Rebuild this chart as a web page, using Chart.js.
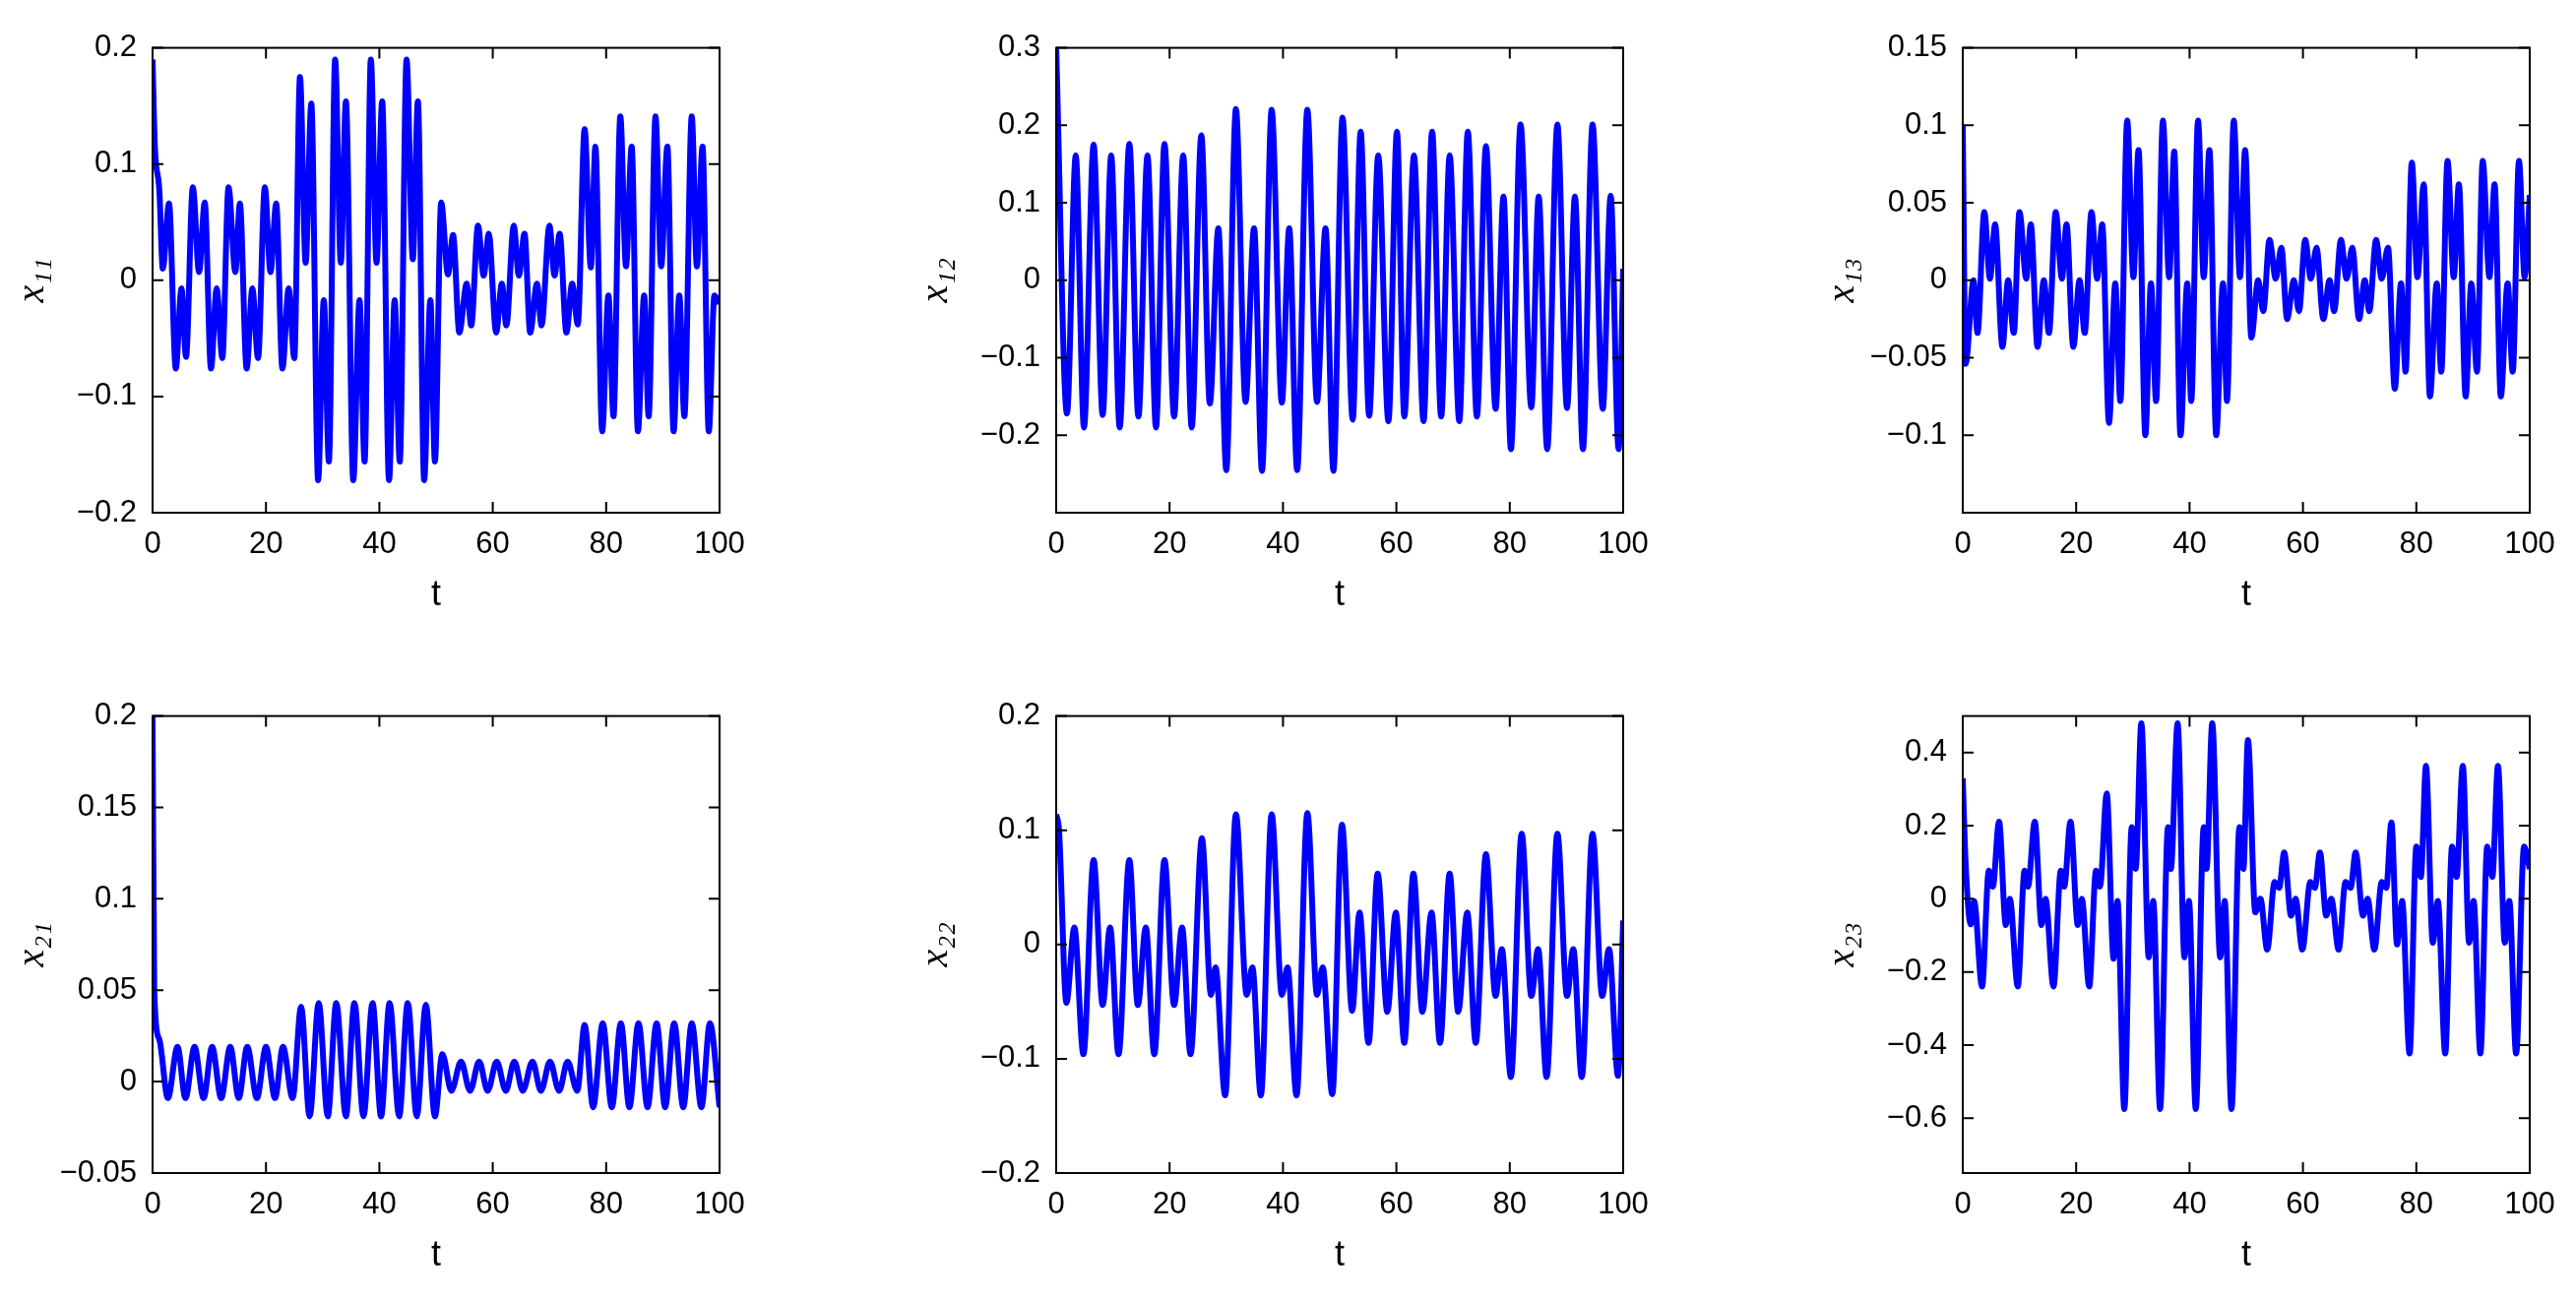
<!DOCTYPE html>
<html>
<head>
<meta charset="utf-8">
<script src="https://cdn.jsdelivr.net/npm/chart.js@4.4.1/dist/chart.umd.min.js"></script>
<style>
  body { margin: 0; background: #fff; width: 2617px; height: 1320px; overflow: hidden; position: relative; }
  .panel { position: absolute; }
</style>
</head>
<body>
<script>
// x11: extrema, time then value
const t11 = [0,0.4,1.2,1.8,2.9,4.1,5.1,5.9,7.1,8.2,9.2,10.3,11.3,12.3,13.4,14.6,15.4,16.6,17.6,18.6,19.8,20.8,21.8,22.9,24,25,26,27,28,29.2,30.2,31.1,32.2,33.2,34.1,35.4,36.5,37.4,38.5,39.5,40.5,41.7,42.7,43.6,44.8,45.9,46.8,47.9,49,49.8,50.9,52.1,53,54.1,55.4,56.2,57.4,58.4,59.3,60.6,61.6,62.4,63.7,64.6,65.6,66.6,67.8,68.6,70,70.9,71.8,73,74,75,76.2,77.3,78.1,79.3,80.4,81.3,82.5,83.5,84.5,85.6,86.7,87.5,88.7,89.7,90.8,91.9,92.9,93.8,95.1,96,97,98.1,99.1,100];
const v11 = [0.19,0.116,0.077,0.01,0.066,-0.076,-0.007,-0.066,0.08,0.007,0.067,-0.076,-0.007,-0.067,0.08,0.007,0.066,-0.076,-0.007,-0.067,0.08,0.007,0.066,-0.076,-0.007,-0.067,0.175,0.015,0.152,-0.172,-0.017,-0.156,0.19,0.015,0.154,-0.172,-0.017,-0.156,0.19,0.015,0.154,-0.172,-0.017,-0.156,0.19,0.018,0.154,-0.172,-0.017,-0.156,0.067,0.005,0.039,-0.045,-0.003,-0.039,0.047,0.004,0.04,-0.045,-0.003,-0.039,0.047,0.004,0.04,-0.045,-0.003,-0.039,0.047,0.004,0.04,-0.045,-0.003,-0.038,0.13,0.011,0.115,-0.13,-0.013,-0.117,0.141,0.012,0.115,-0.13,-0.013,-0.117,0.141,0.012,0.115,-0.13,-0.013,-0.117,0.141,0.012,0.115,-0.13,-0.013,-0.02];

// x12
const t12 = [0,1.9,3.45,4.9,6.6,8.2,9.7,11.2,12.9,14.5,16.1,17.6,19.1,20.8,22.4,23.9,25.6,27.1,28.6,30,31.7,33.4,34.9,36.3,38,39.8,41.1,42.5,44.3,46,47.5,48.9,50.5,52.3,53.7,55.2,56.8,58.6,60.1,61.4,63.1,64.8,66.3,67.9,69.4,71.1,72.6,74.2,75.8,77.5,78.9,80.2,81.9,83.8,85.1,86.6,88.4,90.1,91.5,92.9,94.6,96.4,97.8,99.2,100];
const v12 = [0.3,-0.172,0.161,-0.19,0.175,-0.174,0.161,-0.19,0.176,-0.176,0.161,-0.19,0.176,-0.176,0.161,-0.19,0.187,-0.159,0.067,-0.245,0.221,-0.157,0.067,-0.246,0.22,-0.158,0.067,-0.245,0.22,-0.157,0.067,-0.246,0.21,-0.18,0.192,-0.175,0.161,-0.182,0.192,-0.176,0.161,-0.182,0.192,-0.176,0.161,-0.182,0.192,-0.176,0.173,-0.166,0.108,-0.218,0.201,-0.164,0.108,-0.218,0.201,-0.165,0.108,-0.218,0.201,-0.166,0.109,-0.218,0.015];

// x13
const t13 = [0,0.5,1.9,2.6,3.8,4.8,5.7,7,8,9,10,11.2,12,13.2,14.3,15.2,16.4,17.5,18.3,19.5,20.6,21.5,22.7,23.7,24.6,25.8,26.9,27.8,29,30.1,31,32.2,33.2,34.1,35.3,36.4,37.3,38.4,39.6,40.3,41.5,42.5,43.5,44.7,45.9,46.6,47.8,48.9,49.8,50.9,52.1,53,54.1,55.2,56.2,57.2,58.4,59.3,60.4,61.4,62.4,63.6,64.7,65.5,66.7,67.7,68.7,69.9,70.9,71.7,72.9,73.9,75,76.2,77.3,78.1,79.2,80.2,81.3,82.4,83.6,84.4,85.5,86.6,87.5,88.7,89.7,90.7,91.7,92.9,93.8,94.9,96.1,97,98.1,99.1,100];
const v13 = [0.1,-0.054,0,-0.034,0.044,0.001,0.036,-0.043,0,-0.034,0.044,0.001,0.036,-0.043,0,-0.034,0.044,0.001,0.036,-0.043,0,-0.034,0.044,0.001,0.036,-0.092,-0.002,-0.078,0.103,0.002,0.084,-0.1,-0.002,-0.078,0.103,0.002,0.083,-0.1,-0.002,-0.078,0.103,0.002,0.084,-0.1,-0.002,-0.078,0.103,0.002,0.084,-0.037,0,-0.02,0.026,0.001,0.021,-0.025,0,-0.02,0.026,0.001,0.021,-0.025,0,-0.02,0.026,0.001,0.021,-0.025,0,-0.02,0.026,0.001,0.021,-0.07,-0.002,-0.059,0.076,0.002,0.062,-0.075,-0.002,-0.059,0.077,0.002,0.062,-0.075,-0.002,-0.059,0.077,0.002,0.062,-0.075,-0.002,-0.059,0.077,0.002,0.055];

// x21
const t21 = [0,0.3,1.2,2.7,4.4,5.8,7.4,9,10.5,12.1,13.7,15.2,16.7,18.4,20,21.6,23,24.7,26.2,27.7,29.3,30.9,32.4,34.1,35.6,37.2,38.8,40.3,41.8,43.5,45,46.6,48.2,49.8,51.1,52.7,54.4,56,57.6,59.1,60.7,62.3,63.8,65.3,67,68.5,70.1,71.7,73.2,74.9,76.2,77.7,79.4,81,82.6,84.1,85.7,87.3,88.9,90.4,92,93.6,95.1,96.8,98.3,100];
const v21 = [0.2,0.05,0.023,-0.009,0.019,-0.009,0.019,-0.009,0.019,-0.009,0.019,-0.009,0.019,-0.009,0.019,-0.009,0.019,-0.009,0.041,-0.019,0.043,-0.019,0.043,-0.019,0.043,-0.019,0.043,-0.019,0.043,-0.019,0.043,-0.019,0.042,-0.019,0.015,-0.005,0.011,-0.005,0.011,-0.005,0.011,-0.005,0.011,-0.005,0.011,-0.005,0.011,-0.005,0.011,-0.005,0.031,-0.014,0.032,-0.014,0.032,-0.014,0.032,-0.014,0.032,-0.014,0.032,-0.014,0.032,-0.014,0.032,-0.014];

// x22
const t22 = [0,0.5,1.8,3.2,4.8,6.6,8.2,9.5,11,12.9,14.4,15.8,17.3,19.1,20.8,22.2,23.7,25.7,27.3,28.1,29.8,31.7,33.6,34.6,36.1,38,39.8,40.8,42.4,44.3,46,47,48.7,50.4,52.2,53.5,55.1,56.7,58.4,59.9,61.4,63,64.6,66.2,67.7,69.4,70.9,72.5,74,75.8,77.5,78.6,80.2,82.1,83.8,85,86.5,88.4,90.1,91.2,92.7,94.6,96.3,97.5,99.1,100];
const v22 = [0.114,0.1,-0.051,0.015,-0.096,0.074,-0.053,0.015,-0.096,0.074,-0.053,0.015,-0.096,0.074,-0.053,0.015,-0.096,0.093,-0.044,-0.02,-0.132,0.114,-0.044,-0.02,-0.132,0.114,-0.044,-0.02,-0.132,0.115,-0.044,-0.02,-0.131,0.105,-0.058,0.028,-0.086,0.062,-0.059,0.028,-0.086,0.062,-0.059,0.028,-0.086,0.062,-0.059,0.028,-0.086,0.079,-0.045,-0.004,-0.116,0.097,-0.045,-0.004,-0.116,0.097,-0.045,-0.004,-0.116,0.097,-0.045,-0.004,-0.115,0.021];

// x23
const t23 = [0,0.5,1.4,2,3.4,4.6,5.3,6.4,7.6,8.3,9.7,10.9,11.5,12.7,13.9,14.6,16,17.3,17.9,19,20.3,21,22.3,23.5,24.2,25.4,26.6,27.3,28.5,29.8,30.5,31.5,32.8,33.6,34.8,36.2,36.7,37.9,39.1,39.9,41.1,42.5,43,44,45.4,46.2,47.4,48.8,49.5,50.3,51.6,52.5,53.7,55,55.8,56.7,57.9,58.7,59.9,61.3,62.1,63,64.1,65,66.3,67.5,68.4,69.3,70.6,71.4,72.6,73.9,74.7,75.6,76.6,77.5,78.8,80,80.8,81.7,82.9,83.8,85.1,86.3,87.1,88.2,89.3,90.1,91.3,92.5,93.4,94.4,95.6,96.4,97.6,99,100];
const v23 = [0.33,0.1,-0.07,-0.006,-0.24,0.077,0.033,0.211,-0.072,0,-0.24,0.077,0.033,0.211,-0.072,0,-0.24,0.077,0.033,0.211,-0.072,0,-0.24,0.077,0.033,0.288,-0.164,-0.006,-0.575,0.196,0.082,0.48,-0.16,-0.006,-0.575,0.196,0.082,0.48,-0.16,-0.006,-0.575,0.196,0.082,0.48,-0.16,-0.006,-0.575,0.196,0.082,0.434,-0.037,0,-0.139,0.046,0.03,0.127,-0.046,0,-0.139,0.046,0.03,0.127,-0.046,0,-0.139,0.046,0.03,0.127,-0.046,0,-0.139,0.046,0.03,0.209,-0.125,-0.006,-0.423,0.143,0.06,0.364,-0.12,-0.006,-0.423,0.143,0.06,0.364,-0.12,-0.006,-0.423,0.143,0.06,0.364,-0.12,-0.006,-0.423,0.143,0.082];

const xTicks = [0, 20, 40, 60, 80, 100];
const yTicks11 = [-0.2, -0.1, 0, 0.1, 0.2];
const yTicks12 = [-0.2, -0.1, 0, 0.1, 0.2, 0.3];
const yTicks13 = [-0.1, -0.05, 0, 0.05, 0.1, 0.15];
const yTicks21 = [-0.05, 0, 0.05, 0.1, 0.15, 0.2];
const yTicks22 = [-0.2, -0.1, 0, 0.1, 0.2];
const yTicks23 = [-0.6, -0.4, -0.2, 0, 0.2, 0.4];

const panels = [
    { label: 'x₁₁', t: t11, v: v11, ticks: yTicks11, min: -0.2, max: 0.2, left: 155, top: 42, h: 479 },
    { label: 'x₁₂', t: t12, v: v12, ticks: yTicks12, min: -0.3, max: 0.3, left: 1073, top: 42, h: 479 },
    { label: 'x₁₃', t: t13, v: v13, ticks: yTicks13, min: -0.15, max: 0.15, left: 1994, top: 42, h: 479 },
    { label: 'x₂₁', t: t21, v: v21, ticks: yTicks21, min: -0.05, max: 0.2, left: 155, top: 721, h: 471 },
    { label: 'x₂₂', t: t22, v: v22, ticks: yTicks22, min: -0.2, max: 0.2, left: 1073, top: 721, h: 471 },
    { label: 'x₂₃', t: t23, v: v23, ticks: yTicks23, min: -0.75, max: 0.5, left: 1994, top: 721, h: 471 },
];

const PW = 576, PADL = 150, PADT = 20, PADR = 40, PADB = 110;

// MATLAB style box with inward ticks on all four sides
const boxPlugin = {
    id: 'box',
    afterDraw(chart) {
        const { ctx, chartArea: a, scales } = chart;
        ctx.save();
        ctx.strokeStyle = '#000';
        ctx.lineWidth = 2;
        ctx.strokeRect(a.left, a.top, a.right - a.left, a.bottom - a.top);
        const len = 11;
        ctx.beginPath();
        scales.x.ticks.forEach(tk => {
            const px = scales.x.getPixelForValue(tk.value);
            ctx.moveTo(px, a.bottom); ctx.lineTo(px, a.bottom - len);
            ctx.moveTo(px, a.top); ctx.lineTo(px, a.top + len);
        });
        scales.y.ticks.forEach(tk => {
            const py = scales.y.getPixelForValue(tk.value);
            ctx.moveTo(a.left, py); ctx.lineTo(a.left + len, py);
            ctx.moveTo(a.right, py); ctx.lineTo(a.right - len, py);
        });
        ctx.stroke();
        ctx.restore();
    }
};

function fmt(v) {
    return String(v).replace('-', '\u2212');
}

panels.forEach(p => {
    const div = document.createElement('div');
    div.className = 'panel';
    div.style.left = (p.left - PADL) + 'px';
    div.style.top = (p.top - PADT) + 'px';
    div.style.width = (PW + PADL + PADR) + 'px';
    div.style.height = (p.h + PADT + PADB) + 'px';
    const canvas = document.createElement('canvas');
    div.appendChild(canvas);
    document.body.appendChild(div);

    new Chart(canvas.getContext('2d'), {
        type: 'line',
        data: {
            datasets: [{
                data: p.t.map((t, i) => ({ x: t, y: p.v[i] })),
                borderColor: '#0000ff',
                borderWidth: 6,
                pointRadius: 0,
                cubicInterpolationMode: 'monotone',
                fill: false
            }]
        },
        options: {
            responsive: true,
            maintainAspectRatio: false,
            animation: false,
            layout: { padding: { top: PADT, right: PADR, left: 0, bottom: 0 } },
            plugins: { legend: { display: false }, tooltip: { enabled: false } },
            scales: {
                x: {
                    type: 'linear', min: 0, max: 100,
                    afterBuildTicks: s => { s.ticks = xTicks.map(v => ({ value: v })); },
                    afterFit: s => { s.height = PADB; },
                    grid: { display: false },
                    border: { display: false },
                    ticks: { color: '#000', font: { family: 'Liberation Sans', size: 31 }, padding: 6, maxRotation: 0, callback: v => fmt(v) },
                    title: { display: true, text: 't', color: '#000', font: { family: 'Liberation Sans', size: 36 }, padding: { top: 10 } }
                },
                y: {
                    type: 'linear', min: p.min, max: p.max,
                    afterBuildTicks: s => { s.ticks = p.ticks.map(v => ({ value: v })); },
                    afterFit: s => { s.width = PADL; },
                    grid: { display: false },
                    border: { display: false },
                    ticks: { color: '#000', font: { family: 'Liberation Sans', size: 31 }, padding: 8, callback: v => fmt(v) },
                    title: { display: true, text: p.label, color: '#000', font: { family: 'Liberation Serif', style: 'italic', size: 40 }, padding: { bottom: 0 } }
                }
            }
        },
        plugins: [boxPlugin]
    });
});
</script>
</body>
</html>
